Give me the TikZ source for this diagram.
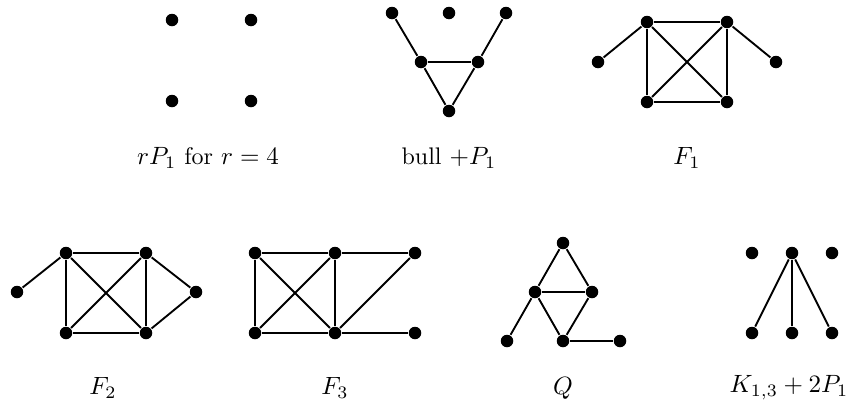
\documentclass[tikz,border=0pt]{standalone}
\begin{document}
\begin{tikzpicture}[x=0.4pt,y=-0.4pt,
  v/.style={circle,fill=black,inner sep=0pt,minimum size=5pt},
  lab/.style={inner sep=0pt,font=\fontsize{9.6}{11}\selectfont},
  every path/.style={line width=0.75pt}]
\useasboundingbox (0,0) rectangle (846,407);
% rP1
\node[v] (a1) at (172,20) {};
\node[v] (a2) at (251,20) {};
\node[v] (a3) at (172,101) {};
\node[v] (a4) at (251,101) {};
\node[lab] (la) at (208,158) {$rP_1$ for $r=4$};
% bull + P1
\node[v] (b1) at (392,13) {};
\node[v] (b2) at (449,13) {};
\node[v] (b3) at (506,13) {};
\node[v] (b4) at (421,62) {};
\node[v] (b5) at (478,62) {};
\node[v] (b6) at (449,111) {};
\draw (b1)--(b4) (b3)--(b5) (b4)--(b5) (b4)--(b6) (b5)--(b6);
\node[lab] (lb) at (449,158) {bull $+P_1$};
% F1
\node[v] (c1) at (598,62) {};
\node[v] (c2) at (647,22) {};
\node[v] (c3) at (727,22) {};
\node[v] (c4) at (776,62) {};
\node[v] (c5) at (647,102) {};
\node[v] (c6) at (727,102) {};
\draw (c1)--(c2) (c2)--(c3) (c3)--(c4) (c2)--(c5) (c3)--(c6) (c5)--(c6) (c2)--(c6) (c3)--(c5);
\node[lab] (lc) at (687,158) {$F_1$};
% F2
\node[v] (d1) at (17,292) {};
\node[v] (d2) at (66,253) {};
\node[v] (d3) at (146,253) {};
\node[v] (d4) at (196,292) {};
\node[v] (d5) at (66,333) {};
\node[v] (d6) at (146,333) {};
\draw (d1)--(d2) (d2)--(d3) (d2)--(d5) (d3)--(d6) (d5)--(d6) (d2)--(d6) (d3)--(d5) (d3)--(d4) (d4)--(d6);
\node[lab] (ld) at (103,388) {$F_2$};
% F3
\node[v] (e1) at (255,253) {};
\node[v] (e2) at (335,253) {};
\node[v] (e3) at (415,253) {};
\node[v] (e4) at (255,333) {};
\node[v] (e5) at (335,333) {};
\node[v] (e6) at (415,333) {};
\draw (e1)--(e2) (e2)--(e3) (e1)--(e4) (e2)--(e5) (e4)--(e5) (e5)--(e6) (e1)--(e5) (e2)--(e4) (e5)--(e3);
\node[lab] (le) at (335,388) {$F_3$};
% Q
\node[v] (f1) at (563,243) {};
\node[v] (f2) at (535,292) {};
\node[v] (f3) at (592,292) {};
\node[v] (f4) at (507,341) {};
\node[v] (f5) at (563,341) {};
\node[v] (f6) at (620,341) {};
\draw (f1)--(f2) (f1)--(f3) (f2)--(f3) (f2)--(f4) (f2)--(f5) (f3)--(f5) (f5)--(f6);
\node[lab] (lf) at (563,388) {$Q$};
% K13 + 2P1
\node[v] (g1) at (752,253) {};
\node[v] (g2) at (792,253) {};
\node[v] (g3) at (832,253) {};
\node[v] (g4) at (752,333) {};
\node[v] (g5) at (792,333) {};
\node[v] (g6) at (832,333) {};
\draw (g2)--(g4) (g2)--(g5) (g2)--(g6);
\node[lab] (lg) at (789,388) {$K_{1,3}+2P_1$};
\end{tikzpicture}
\end{document}
